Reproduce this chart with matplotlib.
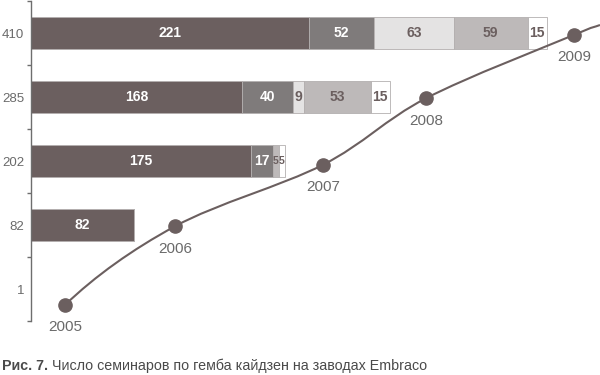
import matplotlib
matplotlib.use("Agg")
import matplotlib.pyplot as plt
import numpy as np
from matplotlib.path import Path
from matplotlib.patches import PathPatch

# ---- data ----
years = [2005, 2006, 2007, 2008, 2009]
total_labels = ["1", "82", "202", "285", "410"]
seg_dark = [0, 82, 175, 168, 221]
seg_mid = [0, 0, 17, 40, 52]
seg_vlight = [0, 0, 0, 9, 63]
seg_light = [0, 0, 5, 53, 59]
seg_white = [0, 0, 5, 15, 15]
# growth curve points (x in bar units, y in row units)
curve_x = [27, 114.5, 232, 314, 431.6]
curve_y = [-0.25, 0.98, 1.94, 2.98, 3.97]
curve_end = (452.3, 4.125)

caption_bold = "Рис. 7."
caption_text = " Число семинаров по гемба кайдзен на заводах Embraco"

# ---- style ----
c_dark = "#6b5f5f"
c_mid = "#7f7b7b"
c_vlight = "#e4e3e3"
c_light = "#bdb9b9"
c_white = "#ffffff"
edge = "#b3afaf"
txt_grey = "#6a6a6a"
num_font = ["Liberation Sans Narrow", "DejaVu Sans Condensed", "Liberation Sans"]
thin_font = ["Liberation Sans", "DejaVu Sans"]

fig = plt.figure(figsize=(6, 3.75), dpi=100)
ax = fig.add_axes([31 / 600, 1 - 321 / 375, 1 - 31 / 600, 320 / 375])

rows = np.arange(len(years))
segments = [
    (seg_dark, c_dark, "white"),
    (seg_mid, c_mid, "white"),
    (seg_vlight, c_vlight, "#6b5f5f"),
    (seg_light, c_light, "#6b5f5f"),
    (seg_white, c_white, "#6b5f5f"),
]
left = np.zeros(len(years))
for vals, col, tcol in segments:
    vals = np.array(vals, dtype=float)
    ax.barh(rows, vals, left=left, height=0.5, color=col,
            edgecolor=edge, linewidth=0.6, zorder=2)
    for r, v, l in zip(rows, vals, left):
        if v > 0:
            fs = 10 if v >= 8 else 7.5
            ax.text(l + v / 2, r, f"{int(v)}", ha="center", va="center",
                    color=tcol, fontsize=fs, fontweight="bold",
                    family=num_font, zorder=4)
    left = left + vals

# ---- smooth growth curve (Catmull-Rom via Bezier) ----
P = np.column_stack([curve_x + [curve_end[0]], curve_y + [curve_end[1]]])
n = len(P)
T = np.zeros_like(P)
for i in range(1, n - 1):
    T[i] = (P[i + 1] - P[i - 1]) / 2
T[0] = 2 * (P[1] - P[0]) - T[1]
T[-1] = P[-1] - P[-2]
verts = [tuple(P[0])]
codes = [Path.MOVETO]
for i in range(n - 1):
    verts += [tuple(P[i] + T[i] / 3), tuple(P[i + 1] - T[i + 1] / 3), tuple(P[i + 1])]
    codes += [Path.CURVE4] * 3
ax.add_patch(PathPatch(Path(verts, codes), facecolor="none", edgecolor=c_dark,
                       linewidth=1.5, zorder=5, clip_on=False))
ax.plot(curve_x, curve_y, "o", color=c_dark, markersize=9.5, zorder=6,
        clip_on=False)
for x, y, yr in zip(curve_x, curve_y, years):
    ax.annotate(str(yr), (x, y), xytext=(0, -16), textcoords="offset points",
                ha="center", va="center", fontsize=11, color=txt_grey,
                family=thin_font, annotation_clip=False)

# ---- axes ----
ax.set_xlim(0, curve_end[0])
ax.set_ylim(-0.5, 4.5)
for s in ["top", "right", "bottom"]:
    ax.spines[s].set_visible(False)
ax.spines["left"].set_color("#6e6e6e")
ax.spines["left"].set_linewidth(1.0)
ax.set_xticks([])
ax.set_yticks(np.arange(-0.5, 4.6, 1.0))
ax.set_yticklabels([])
ax.tick_params(axis="y", which="major", length=3, width=1.0, color="#6e6e6e",
               direction="out")
ax.set_yticks(rows, minor=True)
ax.set_yticklabels(total_labels, minor=True)
ax.tick_params(axis="y", which="minor", length=0, pad=5, labelsize=9.5,
               labelcolor=txt_grey)
for lab in ax.get_yticklabels(minor=True):
    lab.set_family(thin_font)

# ---- caption ----
cap_font = ["Liberation Sans", "DejaVu Sans"]
t1 = fig.text(2 / 600, 1 - 366 / 375, caption_bold, fontsize=10.3,
              fontweight="bold", color="#4a4a4a", family=cap_font,
              va="center", ha="left")
fig.canvas.draw()
bb = t1.get_window_extent()
fig.text(bb.x1 / 600, 1 - 366 / 375, caption_text, fontsize=10.3,
         color="#4a4a4a", family=cap_font, va="center", ha="left")

fig.savefig("out.png", dpi=100)
